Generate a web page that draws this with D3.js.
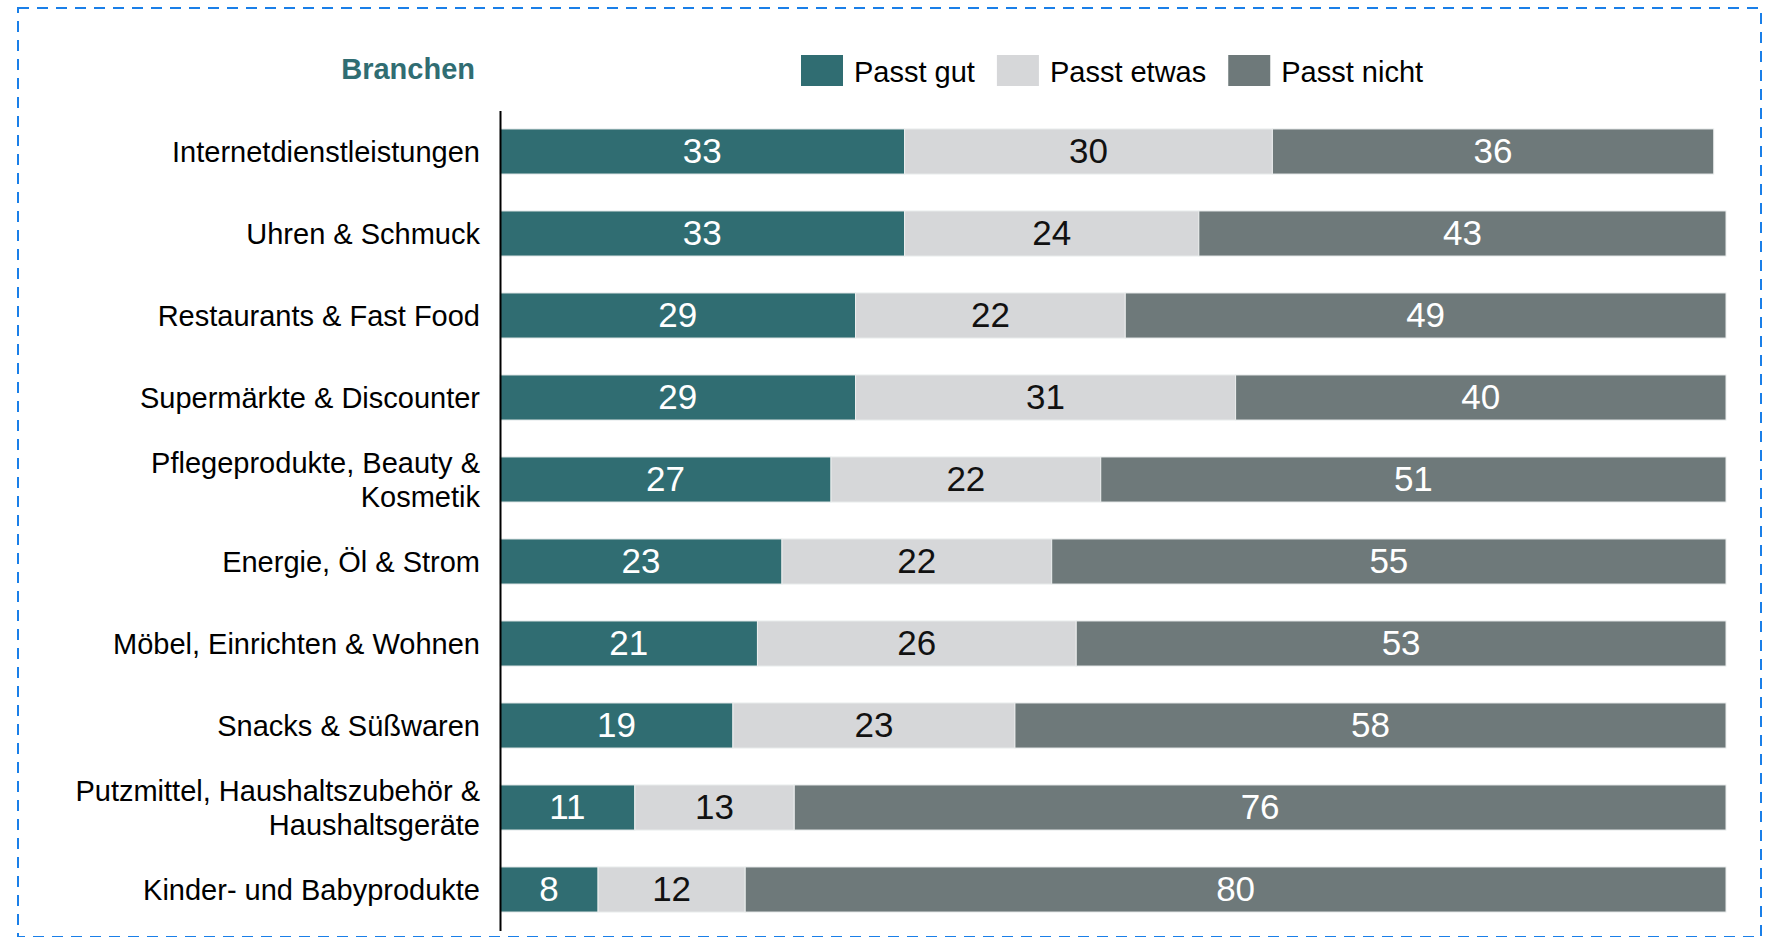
<!DOCTYPE html>
<html>
<head>
<meta charset="utf-8">
<script src="https://cdn.jsdelivr.net/npm/d3@7"></script>
<style>
  html, body { margin: 0; padding: 0; background: #fff; }
  svg { display: block; }
  text { font-family: "Liberation Sans", Arial, Helvetica, sans-serif; }
</style>
</head>
<body>
<svg id="chart" width="1774" height="937"></svg>
<script>
// ---- Data ----
const categories = [
  "Internetdienstleistungen",
  "Uhren & Schmuck",
  "Restaurants & Fast Food",
  "Supermärkte & Discounter",
  "Pflegeprodukte, Beauty & Kosmetik",
  "Energie, Öl & Strom",
  "Möbel, Einrichten & Wohnen",
  "Snacks & Süßwaren",
  "Putzmittel, Haushaltszubehör & Haushaltsgeräte",
  "Kinder- und Babyprodukte"
];
const seriesNames = ["Passt gut", "Passt etwas", "Passt nicht"];
const passtGut    = [33, 33, 29, 29, 27, 23, 21, 19, 11, 8];
const passtEtwas  = [30, 24, 22, 31, 22, 22, 26, 23, 13, 12];
const passtNicht  = [36, 43, 49, 40, 51, 55, 53, 58, 76, 80];
const axisTitle = "Branchen";

// ---- Styles ----
const colors = ["#306d72", "#d6d7d9", "#6e797a"];
const labelColors = ["#ffffff", "#111111", "#ffffff"];

const svg = d3.select("#chart");

// dashed frame
svg.append("rect")
  .attr("x", 18).attr("y", 8)
  .attr("width", 1743).attr("height", 929)
  .attr("fill", "none")
  .attr("stroke", "#1a7fe8")
  .attr("stroke-width", 2)
  .attr("stroke-dasharray", "11,8");

const x = d3.scaleLinear().domain([0, 100]).range([500, 1726]);
const y = d3.scaleBand().domain(categories).range([110.5, 930.5])
  .paddingInner(0.45).paddingOuter(0.225);

const table = categories.map((c, i) => ({
  cat: c,
  "Passt gut": passtGut[i],
  "Passt etwas": passtEtwas[i],
  "Passt nicht": passtNicht[i]
}));
const stacked = d3.stack().keys(seriesNames)(table);

const g = svg.append("g");
stacked.forEach((layer, si) => {
  const lg = g.append("g");
  lg.selectAll("rect").data(layer).join("rect")
    .attr("x", d => x(d[0]))
    .attr("y", d => y(d.data.cat))
    .attr("width", d => x(d[1]) - x(d[0]))
    .attr("height", y.bandwidth())
    .attr("fill", colors[si])
    .attr("stroke", "#eceeee")
    .attr("stroke-width", 1);
  lg.selectAll("text").data(layer).join("text")
    .attr("x", d => (x(d[0]) + x(d[1])) / 2)
    .attr("y", d => y(d.data.cat) + y.bandwidth() / 2)
    .attr("dy", "0.33em")
    .attr("text-anchor", "middle")
    .attr("font-size", 35)
    .attr("fill", labelColors[si])
    .text(d => d[1] - d[0]);
});

// axis
const axis = d3.axisLeft(y).tickSize(0).tickPadding(20);
const ag = svg.append("g").attr("transform", "translate(500,0)").call(axis);
ag.select(".domain").attr("stroke", "#000").attr("stroke-width", 2);
ag.selectAll(".tick text")
  .attr("font-size", 29)
  .attr("fill", "#000")
  .attr("font-family", '"Liberation Sans", Arial, Helvetica, sans-serif')
  .each(function(d) {
    const t = d3.select(this);
    const words = d.split(" ");
    t.text(null);
    const lines = [];
    let cur = [];
    const tmp = t.append("tspan");
    words.forEach(w => {
      const trial = cur.concat([w]).join(" ");
      tmp.text(trial);
      if (tmp.node().getComputedTextLength() > 430 && cur.length) {
        lines.push(cur.join(" "));
        cur = [w];
      } else {
        cur.push(w);
      }
    });
    lines.push(cur.join(" "));
    tmp.remove();
    const lh = 34;
    const startOff = -(lines.length - 1) * lh / 2;
    t.attr("dy", null);
    lines.forEach((ln, i) => {
      t.append("tspan")
        .attr("x", -20)
        .attr("dy", i === 0 ? (startOff / 29 + 0.35) + "em" : (lh / 29) + "em")
        .text(ln);
    });
  });

// axis title
svg.append("text")
  .attr("x", 475).attr("y", 79)
  .attr("text-anchor", "end")
  .attr("font-size", 29)
  .attr("font-weight", "bold")
  .attr("fill", colors[0])
  .text(axisTitle);

// legend
let lx = 801;
seriesNames.forEach((name, i) => {
  svg.append("rect")
    .attr("x", lx).attr("y", 55)
    .attr("width", 42).attr("height", 31)
    .attr("fill", colors[i]);
  const t = svg.append("text")
    .attr("x", lx + 53).attr("y", 82.3)
    .attr("font-size", 29)
    .attr("fill", "#000")
    .text(name);
  lx = lx + 53 + t.node().getComputedTextLength() + 22;
});
</script>
</body>
</html>
